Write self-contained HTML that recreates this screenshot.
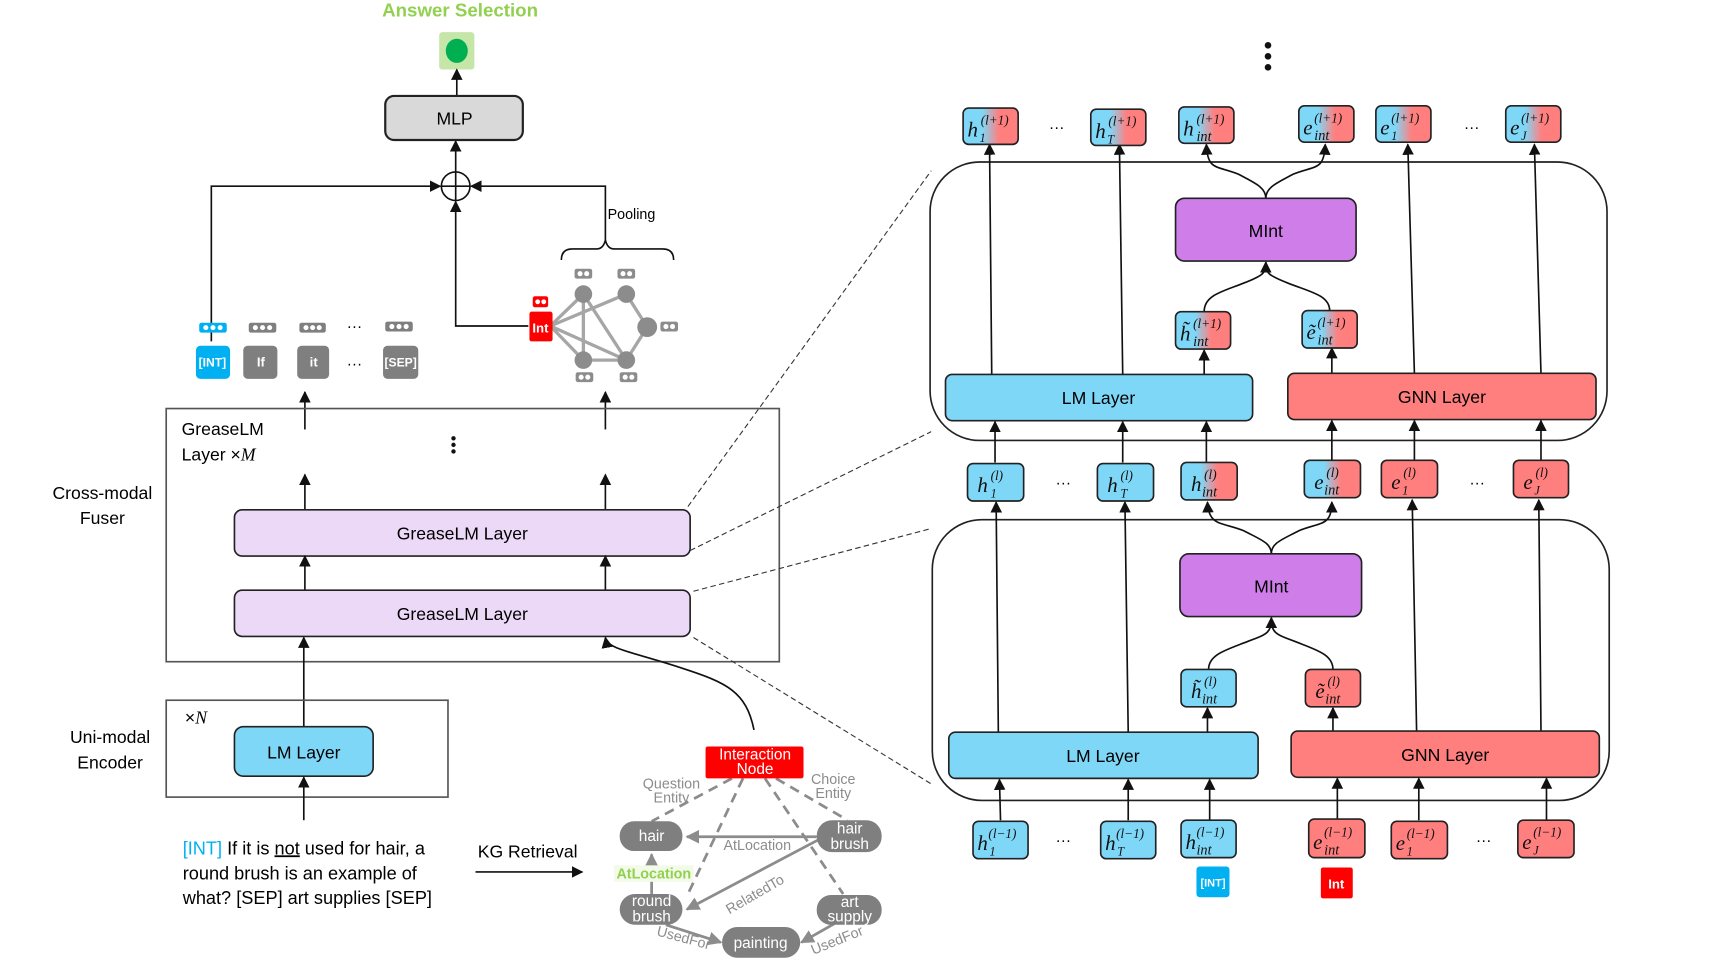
<!DOCTYPE html>
<html><head><meta charset="utf-8"><style>
html,body{margin:0;padding:0;background:#fff;}
svg{display:block;}
text{font-family:"Liberation Sans",sans-serif;}
.m{font-family:"Liberation Serif",serif;font-style:italic;fill:#111;}
.tk{stroke:#222;stroke-width:1.5;}
.ln{stroke:#111;stroke-width:1.5;fill:none;}
.dash{stroke:#333;stroke-width:1;stroke-dasharray:5,3;fill:none;}
.kg{stroke:#8c8c8c;stroke-width:2.5;fill:none;}
.kgd{stroke:#8c8c8c;stroke-width:2.5;fill:none;stroke-dasharray:9,6;}
.kt{fill:#8c8c8c;font-size:13px;}
.nt{fill:#fff;font-size:14px;text-anchor:middle;}
</style></head><body>
<svg width="1727" height="980" viewBox="0 0 1569 890" xmlns="http://www.w3.org/2000/svg">
<defs>
<marker id="a" viewBox="0 0 10 10" refX="9" refY="5" markerWidth="7" markerHeight="7" orient="auto-start-reverse"><path d="M0,0L10,5L0,10z" fill="#111"/></marker>
<marker id="g" viewBox="0 0 10 10" refX="9" refY="5" markerWidth="5" markerHeight="5" orient="auto"><path d="M0,0L10,5L0,10z" fill="#8c8c8c"/></marker>
<linearGradient id="gr" x1="0" x2="1" y1="0" y2="0"><stop offset="0.35" stop-color="#7fd7f7"/><stop offset="0.65" stop-color="#ff7f7f"/></linearGradient>
</defs>

<!-- Answer selection -->
<text x="418" y="15" text-anchor="middle" font-size="17" font-weight="bold" fill="#92d050">Answer Selection</text>
<rect x="399" y="29" width="32" height="34" rx="3" fill="#c6e5a8"/>
<ellipse cx="415" cy="46" rx="10" ry="11" fill="#00b050"/>
<line class="ln" x1="415" y1="87" x2="415" y2="63" marker-end="url(#a)"/>
<rect x="350" y="87" width="125" height="40" rx="8" fill="#d9d9d9" stroke="#222" stroke-width="2"/>
<text x="413" y="113" text-anchor="middle" font-size="16">MLP</text>
<line class="ln" x1="414" y1="156" x2="414" y2="128" marker-end="url(#a)"/>
<circle cx="414" cy="169" r="13" fill="none" stroke="#111" stroke-width="1.5"/>
<line class="ln" x1="401" y1="169" x2="427" y2="169"/><line class="ln" x1="414" y1="156" x2="414" y2="182"/>
<polyline class="ln" points="192,310 192,169 400,169" marker-end="url(#a)"/>
<polyline class="ln" points="550,220 550,169 428,169" marker-end="url(#a)"/>
<polyline class="ln" points="480,296 414,296 414,183" marker-end="url(#a)"/>
<text x="552" y="199" font-size="13">Pooling</text>
<path class="ln" d="M510,236 Q510,226 520,226 L542,226 Q548,226 550,218 Q552,226 558,226 L602,226 Q612,226 612,236"/>

<!-- token icons -->
<rect x="181" y="293" width="25" height="9" rx="2" fill="#00b0f0"/>
<rect x="226" y="293" width="25" height="9" rx="2" fill="#7f7f7f"/>
<rect x="272" y="293" width="24" height="9" rx="2" fill="#7f7f7f"/>
<rect x="350" y="292" width="25" height="9" rx="2" fill="#7f7f7f"/>
<g fill="#fff">
<circle cx="187" cy="297.5" r="2.3"/><circle cx="193.5" cy="297.5" r="2.3"/><circle cx="200" cy="297.5" r="2.3"/>
<circle cx="232" cy="297.5" r="2.3"/><circle cx="238.5" cy="297.5" r="2.3"/><circle cx="245" cy="297.5" r="2.3"/>
<circle cx="278" cy="297.5" r="2.3"/><circle cx="284" cy="297.5" r="2.3"/><circle cx="290" cy="297.5" r="2.3"/>
<circle cx="356" cy="296.5" r="2.3"/><circle cx="362.5" cy="296.5" r="2.3"/><circle cx="369" cy="296.5" r="2.3"/>
</g>
<text x="322" y="301" text-anchor="middle" font-size="14">···</text>
<rect x="178" y="314" width="31" height="30" rx="4" fill="#00b0f0"/><text x="193" y="333" text-anchor="middle" font-size="11" font-weight="bold" fill="#fff">[INT]</text>
<rect x="221" y="314" width="31" height="30" rx="4" fill="#7f7f7f"/><text x="237" y="333" text-anchor="middle" font-size="12" font-weight="bold" fill="#fff">If</text>
<rect x="270" y="314" width="29" height="30" rx="4" fill="#7f7f7f"/><text x="285" y="333" text-anchor="middle" font-size="12" font-weight="bold" fill="#fff">it</text>
<text x="322" y="335" text-anchor="middle" font-size="14">···</text>
<rect x="348" y="314" width="32" height="30" rx="4" fill="#7f7f7f"/><text x="364" y="333" text-anchor="middle" font-size="11" font-weight="bold" fill="#fff">[SEP]</text>

<!-- small graph -->
<g stroke="#a6a6a6" stroke-width="3">
<line x1="500" y1="296" x2="530" y2="267"/><line x1="500" y1="296" x2="569" y2="267"/>
<line x1="500" y1="296" x2="530" y2="327"/><line x1="500" y1="296" x2="569" y2="327"/>
<line x1="530" y1="267" x2="530" y2="327"/><line x1="530" y1="267" x2="569" y2="327"/>
<line x1="569" y1="267" x2="588" y2="297"/><line x1="588" y1="297" x2="569" y2="327"/>
<line x1="530" y1="327" x2="569" y2="327"/>
</g>
<g fill="#8c8c8c"><circle cx="530" cy="267" r="8"/><circle cx="569" cy="267" r="8"/><circle cx="588" cy="297" r="9"/><circle cx="530" cy="327" r="8"/><circle cx="569" cy="327" r="8"/></g>
<g fill="#8c8c8c"><rect x="522" y="244" width="16" height="9" rx="2"/><rect x="561" y="244" width="16" height="9" rx="2"/><rect x="600" y="292" width="16" height="9" rx="2"/><rect x="523" y="338" width="16" height="9" rx="2"/><rect x="563" y="338" width="16" height="9" rx="2"/></g>
<g fill="#fff"><circle cx="527" cy="248.5" r="2.3"/><circle cx="533" cy="248.5" r="2.3"/><circle cx="566" cy="248.5" r="2.3"/><circle cx="572" cy="248.5" r="2.3"/><circle cx="605" cy="296.5" r="2.3"/><circle cx="611" cy="296.5" r="2.3"/><circle cx="528" cy="342.5" r="2.3"/><circle cx="534" cy="342.5" r="2.3"/><circle cx="568" cy="342.5" r="2.3"/><circle cx="574" cy="342.5" r="2.3"/></g>
<rect x="484" y="269" width="14" height="10" rx="2" fill="#f00"/>
<g fill="#fff"><circle cx="488.5" cy="274" r="2.2"/><circle cx="494" cy="274" r="2.2"/></g>
<rect x="481" y="283" width="21" height="27" rx="2" fill="#f00"/><text x="491" y="302" text-anchor="middle" font-size="12" font-weight="bold" fill="#fff">Int</text>

<!-- Fuser -->
<line class="ln" x1="277" y1="390" x2="277" y2="356" marker-end="url(#a)"/>
<line class="ln" x1="550" y1="390" x2="550" y2="356" marker-end="url(#a)"/>
<rect x="151" y="371" width="557" height="230" fill="none" stroke="#555" stroke-width="1.5"/>
<text x="165" y="395" font-size="16">GreaseLM</text>
<text x="165" y="418" font-size="16">Layer ×<tspan font-style="italic" font-family="Liberation Serif">M</tspan></text>
<g fill="#111"><circle cx="412" cy="398" r="2"/><circle cx="412" cy="404" r="2"/><circle cx="412" cy="410" r="2"/></g>
<text x="93" y="453" text-anchor="middle" font-size="16">Cross-modal</text>
<text x="93" y="476" text-anchor="middle" font-size="16">Fuser</text>
<line class="ln" x1="277" y1="463" x2="277" y2="431" marker-end="url(#a)"/>
<line class="ln" x1="550" y1="463" x2="550" y2="431" marker-end="url(#a)"/>
<rect x="213" y="463" width="414" height="42" rx="7" fill="#ecd9f7" stroke="#222" stroke-width="1.5"/>
<text x="420" y="490" text-anchor="middle" font-size="16">GreaseLM Layer</text>
<line class="ln" x1="277" y1="536" x2="277" y2="505" marker-end="url(#a)"/>
<line class="ln" x1="550" y1="536" x2="550" y2="505" marker-end="url(#a)"/>
<rect x="213" y="536" width="414" height="42" rx="7" fill="#ecd9f7" stroke="#222" stroke-width="1.5"/>
<text x="420" y="563" text-anchor="middle" font-size="16">GreaseLM Layer</text>
<line class="ln" x1="276" y1="660" x2="276" y2="579" marker-end="url(#a)"/>
<path class="ln" d="M685,663 C678,628 660,620 620,607 C575,592 552,590 550,579" marker-end="url(#a)"/>

<!-- Encoder -->
<rect x="151" y="636" width="256" height="88" fill="none" stroke="#555" stroke-width="1.5"/>
<text x="168" y="657" font-size="16">×<tspan font-style="italic" font-family="Liberation Serif">N</tspan></text>
<rect x="213" y="660" width="126" height="45" rx="8" fill="#7fd7f7" stroke="#222" stroke-width="1.5"/>
<text x="276" y="689" text-anchor="middle" font-size="16">LM Layer</text>
<line class="ln" x1="276" y1="745" x2="276" y2="706" marker-end="url(#a)"/>
<text x="100" y="675" text-anchor="middle" font-size="16">Uni-modal</text>
<text x="100" y="698" text-anchor="middle" font-size="16">Encoder</text>

<text x="166" y="776" font-size="16.5"><tspan fill="#00b0f0">[INT]</tspan> If it is <tspan text-decoration="underline">not</tspan> used for hair, a</text>
<text x="166" y="799" font-size="16.5">round brush is an example of</text>
<text x="166" y="821" font-size="16.5">what?  [SEP] art supplies  [SEP]</text>
<text x="434" y="779" font-size="16">KG Retrieval</text>
<line class="ln" x1="432" y1="792" x2="529" y2="792" marker-end="url(#a)"/>

<!-- dashed zoom lines -->
<line class="dash" x1="625" y1="460" x2="846" y2="155"/>
<line class="dash" x1="627" y1="500" x2="846" y2="392"/>
<line class="dash" x1="630" y1="537" x2="846" y2="480"/>
<line class="dash" x1="630" y1="579" x2="846" y2="712"/>

<!-- KG -->
<line class="kgd" x1="665" y1="707" x2="592" y2="746"/>
<line class="kgd" x1="675" y1="707" x2="625" y2="812"/>
<line class="kgd" x1="695" y1="707" x2="766" y2="812"/>
<line class="kgd" x1="705" y1="707" x2="770" y2="745"/>
<line class="kg" x1="742" y1="760" x2="624" y2="760" marker-end="url(#g)"/>
<line class="kg" x1="592" y1="812" x2="592" y2="776" marker-end="url(#g)"/>
<line class="kg" x1="745" y1="762" x2="624" y2="826" marker-end="url(#g)"/>
<line class="kg" x1="605" y1="840" x2="655" y2="856" marker-end="url(#g)"/>
<line class="kg" x1="758" y1="839" x2="728" y2="856" marker-end="url(#g)"/>
<rect x="641" y="678" width="89" height="29" rx="2" fill="#f00"/>
<text x="686" y="690" class="nt" font-size="13">Interaction</text>
<text x="686" y="703" class="nt" font-size="13">Node</text>
<text x="610" y="716" class="kt" text-anchor="middle">Question</text><text x="610" y="729" class="kt" text-anchor="middle">Entity</text>
<text x="757" y="712" class="kt" text-anchor="middle">Choice</text><text x="757" y="725" class="kt" text-anchor="middle">Entity</text>
<rect x="563" y="746" width="57" height="27" rx="13" fill="#7f7f7f"/><text x="592" y="764" class="nt">hair</text>
<rect x="742" y="745" width="59" height="29" rx="14" fill="#7f7f7f"/><text x="772" y="757" class="nt">hair</text><text x="772" y="771" class="nt">brush</text>
<rect x="563" y="812" width="57" height="28" rx="14" fill="#7f7f7f"/><text x="592" y="823" class="nt">round</text><text x="592" y="837" class="nt">brush</text>
<rect x="742" y="813" width="59" height="27" rx="13" fill="#7f7f7f"/><text x="772" y="824" class="nt">art</text><text x="772" y="837" class="nt">supply</text>
<rect x="656" y="842" width="71" height="28" rx="14" fill="#7f7f7f"/><text x="691" y="861" class="nt">painting</text>
<text x="688" y="772" class="kt" text-anchor="middle">AtLocation</text>
<rect x="558" y="786" width="72" height="15" fill="#f2fae8"/>
<text x="594" y="798" text-anchor="middle" font-size="13" font-weight="bold" fill="#92d050">AtLocation</text>
<text x="0" y="0" class="kt" transform="translate(688,816) rotate(-30)" text-anchor="middle">RelatedTo</text>
<text x="0" y="0" class="kt" transform="translate(620,856) rotate(15)" text-anchor="middle">UsedFor</text>
<text x="0" y="0" class="kt" transform="translate(762,858) rotate(-22)" text-anchor="middle">UsedFor</text>

<!-- RIGHT -->
<g fill="#111"><circle cx="1152" cy="41" r="3"/><circle cx="1152" cy="51" r="3"/><circle cx="1152" cy="61" r="3"/></g>
<rect x="845" y="147" width="615" height="253" rx="45" fill="none" stroke="#222" stroke-width="1.5"/>
<rect x="847" y="472" width="615" height="255" rx="45" fill="none" stroke="#222" stroke-width="1.5"/>

<line class="ln" x1="901" y1="340" x2="899" y2="131" marker-end="url(#a)"/>
<line class="ln" x1="1020" y1="340" x2="1017" y2="131" marker-end="url(#a)"/>
<line class="ln" x1="1285" y1="339" x2="1279" y2="131" marker-end="url(#a)"/>
<line class="ln" x1="1400" y1="339" x2="1394" y2="131" marker-end="url(#a)"/>
<line class="ln" x1="1094" y1="340" x2="1094" y2="318" marker-end="url(#a)"/>
<line class="ln" x1="1210" y1="339" x2="1210" y2="316" marker-end="url(#a)"/>
<path class="ln" d="M1094,283 C1094,268 1110,265 1130,257 C1148,250 1150,248 1150,238" marker-end="url(#a)"/>
<path class="ln" d="M1208,282 C1208,268 1190,265 1170,257 C1152,250 1150,248 1150,238"/>
<path class="ln" d="M1150,180 C1150,170 1140,166 1125,158 C1105,150 1097,155 1096,131" marker-end="url(#a)"/>
<path class="ln" d="M1150,180 C1150,170 1160,166 1175,158 C1195,150 1203,155 1204,131" marker-end="url(#a)"/>
<rect x="1068" y="180" width="164" height="57" rx="8" fill="#cf7ee9" stroke="#222" stroke-width="1.5"/>
<text x="1150" y="215" text-anchor="middle" font-size="16">MInt</text>
<rect x="859" y="340" width="279" height="42" rx="6" fill="#7fd7f7" stroke="#222" stroke-width="1.5"/>
<text x="998" y="367" text-anchor="middle" font-size="16">LM Layer</text>
<rect x="1170" y="339" width="280" height="42" rx="6" fill="#ff7f7f" stroke="#222" stroke-width="1.5"/>
<text x="1310" y="366" text-anchor="middle" font-size="16">GNN Layer</text>

<line class="ln" x1="904" y1="420" x2="904" y2="383" marker-end="url(#a)"/>
<line class="ln" x1="1020" y1="420" x2="1020" y2="383" marker-end="url(#a)"/>
<line class="ln" x1="1096" y1="420" x2="1096" y2="383" marker-end="url(#a)"/>
<line class="ln" x1="1210" y1="418" x2="1210" y2="382" marker-end="url(#a)"/>
<line class="ln" x1="1285" y1="418" x2="1285" y2="382" marker-end="url(#a)"/>
<line class="ln" x1="1400" y1="418" x2="1400" y2="382" marker-end="url(#a)"/>

<line class="ln" x1="907" y1="665" x2="905" y2="456" marker-end="url(#a)"/>
<line class="ln" x1="1025" y1="665" x2="1022" y2="456" marker-end="url(#a)"/>
<line class="ln" x1="1287" y1="664" x2="1283" y2="454" marker-end="url(#a)"/>
<line class="ln" x1="1400" y1="664" x2="1398" y2="454" marker-end="url(#a)"/>
<line class="ln" x1="1097" y1="665" x2="1097" y2="643" marker-end="url(#a)"/>
<line class="ln" x1="1211" y1="664" x2="1211" y2="643" marker-end="url(#a)"/>
<path class="ln" d="M1098,608 C1098,594 1115,590 1135,582 C1152,576 1155,574 1155,561" marker-end="url(#a)"/>
<path class="ln" d="M1211,608 C1211,594 1195,590 1175,582 C1158,576 1155,574 1155,561"/>
<path class="ln" d="M1155,503 C1155,493 1145,490 1130,482 C1110,474 1098,478 1097,456" marker-end="url(#a)"/>
<path class="ln" d="M1155,503 C1155,493 1165,490 1180,482 C1200,474 1210,478 1210,456" marker-end="url(#a)"/>
<rect x="1072" y="503" width="165" height="57" rx="8" fill="#cf7ee9" stroke="#222" stroke-width="1.5"/>
<text x="1155" y="538" text-anchor="middle" font-size="16">MInt</text>
<rect x="862" y="665" width="281" height="42" rx="6" fill="#7fd7f7" stroke="#222" stroke-width="1.5"/>
<text x="1002" y="692" text-anchor="middle" font-size="16">LM Layer</text>
<rect x="1173" y="664" width="280" height="42" rx="6" fill="#ff7f7f" stroke="#222" stroke-width="1.5"/>
<text x="1313" y="691" text-anchor="middle" font-size="16">GNN Layer</text>

<line class="ln" x1="909" y1="745" x2="908" y2="708" marker-end="url(#a)"/>
<line class="ln" x1="1025" y1="745" x2="1025" y2="708" marker-end="url(#a)"/>
<line class="ln" x1="1099" y1="745" x2="1099" y2="708" marker-end="url(#a)"/>
<line class="ln" x1="1215" y1="745" x2="1215" y2="707" marker-end="url(#a)"/>
<line class="ln" x1="1289" y1="745" x2="1289" y2="707" marker-end="url(#a)"/>
<line class="ln" x1="1405" y1="745" x2="1405" y2="707" marker-end="url(#a)"/>

<rect class="tk" x="875" y="98" width="50" height="33" rx="5" fill="url(#gr)"/><text class="m" x="879" y="124" font-size="19">h</text><text class="m" x="891" y="113" font-size="12">(l+1)</text><text class="m" x="890" y="129" font-size="11">1</text>
<rect class="tk" x="991" y="99" width="50" height="33" rx="5" fill="url(#gr)"/><text class="m" x="995" y="125" font-size="19">h</text><text class="m" x="1007" y="114" font-size="12">(l+1)</text><text class="m" x="1006" y="130" font-size="11">T</text>
<rect class="tk" x="1071" y="97" width="50" height="33" rx="5" fill="url(#gr)"/><text class="m" x="1075" y="123" font-size="19">h</text><text class="m" x="1087" y="112" font-size="12">(l+1)</text><text class="m" x="1087" y="128" font-size="13">int</text>
<rect class="tk" x="1180" y="96" width="50" height="33" rx="5" fill="url(#gr)"/><text class="m" x="1184" y="122" font-size="19">e</text><text class="m" x="1194" y="111" font-size="12">(l+1)</text><text class="m" x="1194" y="127" font-size="13">int</text>
<rect class="tk" x="1250" y="96" width="50" height="33" rx="5" fill="url(#gr)"/><text class="m" x="1254" y="122" font-size="19">e</text><text class="m" x="1264" y="111" font-size="12">(l+1)</text><text class="m" x="1264" y="127" font-size="11">1</text>
<rect class="tk" x="1368" y="96" width="50" height="33" rx="5" fill="url(#gr)"/><text class="m" x="1372" y="122" font-size="19">e</text><text class="m" x="1382" y="111" font-size="12">(l+1)</text><text class="m" x="1382" y="127" font-size="11">J</text>
<text x="960" y="120" text-anchor="middle" font-size="14">···</text>
<text x="1337" y="120" text-anchor="middle" font-size="14">···</text>

<rect class="tk" x="1068" y="283" width="50" height="34" rx="5" fill="url(#gr)"/><text class="m" x="1072" y="309" font-size="19">h̃</text><text class="m" x="1084" y="298" font-size="12">(l+1)</text><text class="m" x="1084" y="314" font-size="13">int</text>
<rect class="tk" x="1183" y="282" width="50" height="34" rx="5" fill="url(#gr)"/><text class="m" x="1187" y="308" font-size="19">ẽ</text><text class="m" x="1197" y="297" font-size="12">(l+1)</text><text class="m" x="1197" y="313" font-size="13">int</text>

<rect class="tk" x="879" y="421" width="51" height="34" rx="5" fill="#7fd7f7"/><text class="m" x="888" y="447" font-size="19">h</text><text class="m" x="900" y="436" font-size="12">(l)</text><text class="m" x="900" y="452" font-size="11">1</text>
<rect class="tk" x="997" y="421" width="51" height="34" rx="5" fill="#7fd7f7"/><text class="m" x="1006" y="447" font-size="19">h</text><text class="m" x="1018" y="436" font-size="12">(l)</text><text class="m" x="1018" y="452" font-size="11">T</text>
<rect class="tk" x="1073" y="420" width="51" height="34" rx="5" fill="url(#gr)"/><text class="m" x="1082" y="446" font-size="19">h</text><text class="m" x="1094" y="435" font-size="12">(l)</text><text class="m" x="1092" y="451" font-size="13">int</text>
<rect class="tk" x="1185" y="418" width="51" height="34" rx="5" fill="url(#gr)"/><text class="m" x="1194" y="444" font-size="19">e</text><text class="m" x="1205" y="433" font-size="12">(l)</text><text class="m" x="1203" y="449" font-size="13">int</text>
<rect class="tk" x="1255" y="418" width="51" height="34" rx="5" fill="#ff7f7f"/><text class="m" x="1264" y="444" font-size="19">e</text><text class="m" x="1275" y="433" font-size="12">(l)</text><text class="m" x="1274" y="449" font-size="11">1</text>
<rect class="tk" x="1375" y="418" width="50" height="34" rx="5" fill="#ff7f7f"/><text class="m" x="1384" y="444" font-size="19">e</text><text class="m" x="1395" y="433" font-size="12">(l)</text><text class="m" x="1394" y="449" font-size="11">J</text>
<text x="966" y="443" text-anchor="middle" font-size="14">···</text>
<text x="1342" y="443" text-anchor="middle" font-size="14">···</text>

<rect class="tk" x="1073" y="608" width="50" height="34" rx="5" fill="#7fd7f7"/><text class="m" x="1082" y="634" font-size="19">h̃</text><text class="m" x="1094" y="623" font-size="12">(l)</text><text class="m" x="1092" y="639" font-size="13">int</text>
<rect class="tk" x="1186" y="608" width="50" height="34" rx="5" fill="#ff7f7f"/><text class="m" x="1195" y="634" font-size="19">ẽ</text><text class="m" x="1206" y="623" font-size="12">(l)</text><text class="m" x="1204" y="639" font-size="13">int</text>

<rect class="tk" x="884" y="746" width="50" height="34" rx="5" fill="#7fd7f7"/><text class="m" x="888" y="772" font-size="19">h</text><text class="m" x="898" y="761" font-size="12">(l−1)</text><text class="m" x="899" y="777" font-size="11">1</text>
<rect class="tk" x="1000" y="746" width="50" height="34" rx="5" fill="#7fd7f7"/><text class="m" x="1004" y="772" font-size="19">h</text><text class="m" x="1014" y="761" font-size="12">(l−1)</text><text class="m" x="1015" y="777" font-size="11">T</text>
<rect class="tk" x="1073" y="745" width="50" height="34" rx="5" fill="#7fd7f7"/><text class="m" x="1077" y="771" font-size="19">h</text><text class="m" x="1087" y="760" font-size="12">(l−1)</text><text class="m" x="1087" y="776" font-size="13">int</text>
<rect class="tk" x="1189" y="744" width="51" height="35" rx="5" fill="#ff7f7f"/><text class="m" x="1193" y="771" font-size="19">e</text><text class="m" x="1203" y="760" font-size="12">(l−1)</text><text class="m" x="1203" y="776" font-size="13">int</text>
<rect class="tk" x="1264" y="746" width="51" height="34" rx="5" fill="#ff7f7f"/><text class="m" x="1268" y="772" font-size="19">e</text><text class="m" x="1278" y="761" font-size="12">(l−1)</text><text class="m" x="1278" y="777" font-size="11">1</text>
<rect class="tk" x="1379" y="745" width="51" height="34" rx="5" fill="#ff7f7f"/><text class="m" x="1383" y="771" font-size="19">e</text><text class="m" x="1393" y="760" font-size="12">(l−1)</text><text class="m" x="1393" y="776" font-size="11">J</text>
<text x="966" y="768" text-anchor="middle" font-size="14">···</text>
<text x="1348" y="768" text-anchor="middle" font-size="14">···</text>

<rect x="1087" y="787" width="30" height="28" rx="3" fill="#00b0f0"/><text x="1102" y="805" text-anchor="middle" font-size="10" font-weight="bold" fill="#fff">[INT]</text>
<rect x="1200" y="788" width="29" height="28" rx="2" fill="#f00"/><text x="1214" y="807" text-anchor="middle" font-size="12" font-weight="bold" fill="#fff">Int</text>
</svg>
</body></html>
